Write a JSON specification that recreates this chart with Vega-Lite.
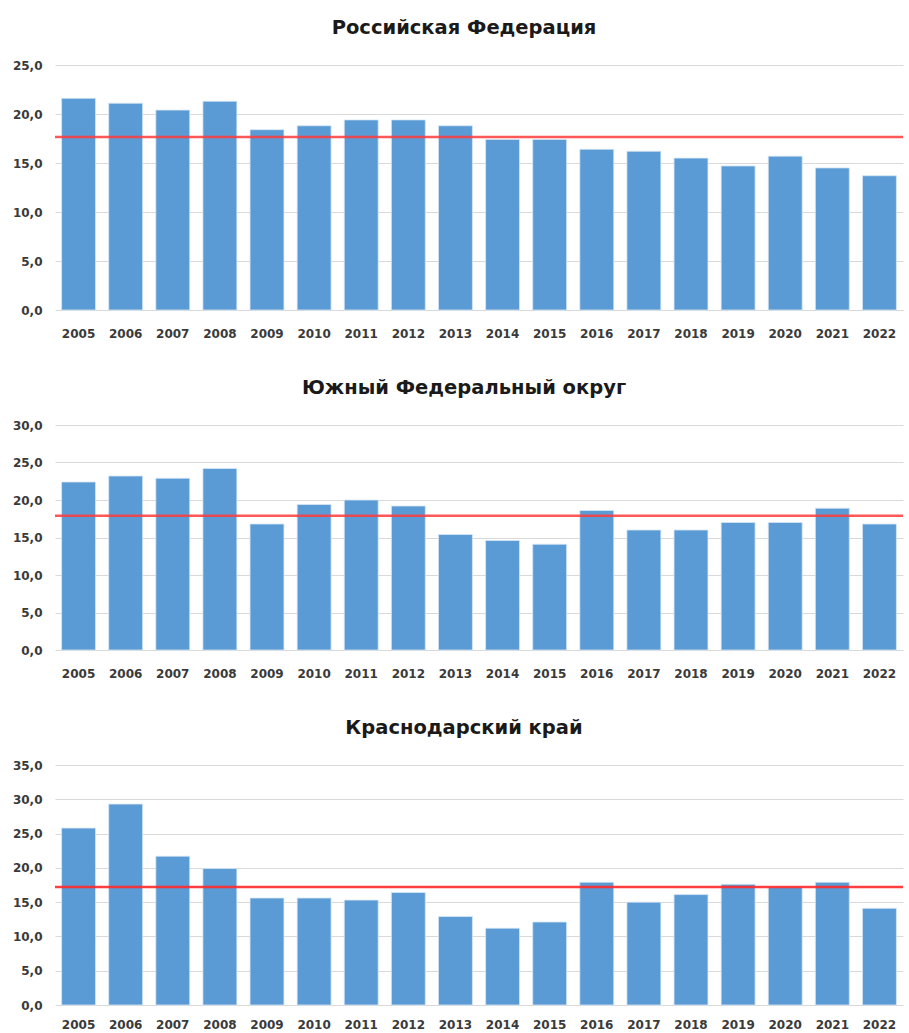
{
  "$schema": "https://vega.github.io/schema/vega-lite/v6.json",
  "autosize": {"type": "pad"},
  "padding": {"left": 12, "top": 17, "right": 4, "bottom": 0},
  "background": "white",
  "spacing": 38,
  "datasets": {
    "d": [
      {"region": "rf", "year": "2005", "value": 21.6},
      {"region": "rf", "year": "2006", "value": 21.1},
      {"region": "rf", "year": "2007", "value": 20.4},
      {"region": "rf", "year": "2008", "value": 21.3},
      {"region": "rf", "year": "2009", "value": 18.4},
      {"region": "rf", "year": "2010", "value": 18.8},
      {"region": "rf", "year": "2011", "value": 19.4},
      {"region": "rf", "year": "2012", "value": 19.4},
      {"region": "rf", "year": "2013", "value": 18.8},
      {"region": "rf", "year": "2014", "value": 17.4},
      {"region": "rf", "year": "2015", "value": 17.4},
      {"region": "rf", "year": "2016", "value": 16.4},
      {"region": "rf", "year": "2017", "value": 16.2},
      {"region": "rf", "year": "2018", "value": 15.5},
      {"region": "rf", "year": "2019", "value": 14.7},
      {"region": "rf", "year": "2020", "value": 15.7},
      {"region": "rf", "year": "2021", "value": 14.5},
      {"region": "rf", "year": "2022", "value": 13.7},
      {"region": "ufo", "year": "2005", "value": 22.4},
      {"region": "ufo", "year": "2006", "value": 23.2},
      {"region": "ufo", "year": "2007", "value": 22.9},
      {"region": "ufo", "year": "2008", "value": 24.2},
      {"region": "ufo", "year": "2009", "value": 16.8},
      {"region": "ufo", "year": "2010", "value": 19.4},
      {"region": "ufo", "year": "2011", "value": 20.0},
      {"region": "ufo", "year": "2012", "value": 19.2},
      {"region": "ufo", "year": "2013", "value": 15.4},
      {"region": "ufo", "year": "2014", "value": 14.6},
      {"region": "ufo", "year": "2015", "value": 14.1},
      {"region": "ufo", "year": "2016", "value": 18.6},
      {"region": "ufo", "year": "2017", "value": 16.0},
      {"region": "ufo", "year": "2018", "value": 16.0},
      {"region": "ufo", "year": "2019", "value": 17.0},
      {"region": "ufo", "year": "2020", "value": 17.0},
      {"region": "ufo", "year": "2021", "value": 18.9},
      {"region": "ufo", "year": "2022", "value": 16.8},
      {"region": "kk", "year": "2005", "value": 25.8},
      {"region": "kk", "year": "2006", "value": 29.3},
      {"region": "kk", "year": "2007", "value": 21.7},
      {"region": "kk", "year": "2008", "value": 19.9},
      {"region": "kk", "year": "2009", "value": 15.6},
      {"region": "kk", "year": "2010", "value": 15.6},
      {"region": "kk", "year": "2011", "value": 15.3},
      {"region": "kk", "year": "2012", "value": 16.4},
      {"region": "kk", "year": "2013", "value": 12.9},
      {"region": "kk", "year": "2014", "value": 11.2},
      {"region": "kk", "year": "2015", "value": 12.1},
      {"region": "kk", "year": "2016", "value": 17.9},
      {"region": "kk", "year": "2017", "value": 15.0},
      {"region": "kk", "year": "2018", "value": 16.1},
      {"region": "kk", "year": "2019", "value": 17.6},
      {"region": "kk", "year": "2020", "value": 17.2},
      {"region": "kk", "year": "2021", "value": 17.9},
      {"region": "kk", "year": "2022", "value": 14.1}
    ],
    "avg": [
      {"region": "rf", "value": 17.65},
      {"region": "ufo", "value": 17.9},
      {"region": "kk", "value": 17.2}
    ]
  },
  "config": {
    "view": {"stroke": null},
    "font": "DejaVu Sans",
    "title": {"font": "DejaVu Sans", "fontSize": 19.5, "fontWeight": "bold", "color": "#1a1a1a", "anchor": "middle", "offset": 21, "dx": -15},
    "axis": {"labelFont": "DejaVu Sans", "labelFontSize": 12, "labelFontWeight": "bold", "labelColor": "#3a3a3a", "ticks": false, "tickSize": 0, "domain": false, "title": null, "labelOverlap": false},
    "axisY": {"gridColor": "#d9d9d9", "gridWidth": 1.2, "labelPadding": 13, "labelExpr": "replace(format(datum.value, '.1f'), '.', ',')"},
    "axisX": {"grid": false, "labelAngle": 0, "labelPadding": 18},
    "bar": {"color": "#5b9bd5", "stroke": "#d6e6f5", "strokeWidth": 0.8},
    "scale": {"bandPaddingInner": 0.28, "bandPaddingOuter": 0.14}
  },
  "vconcat": [
    {
      "title": "Российская  Федерация",
      "width": 848,
      "height": 245,
      "encoding": {
        "y": {"field": "value", "type": "quantitative", "scale": {"domain": [0, 25], "nice": false}, "axis": {"values": [0, 5, 10, 15, 20, 25], "title": null}}
      },
      "layer": [
        {
          "data": {"name": "d"},
          "transform": [{"filter": "datum.region === 'rf'"}],
          "mark": "bar",
          "encoding": {"x": {"field": "year", "type": "nominal", "axis": {"title": null}}}
        },
        {
          "data": {"name": "avg"},
          "transform": [{"filter": "datum.region === 'rf'"}],
          "mark": {"type": "rule", "color": "#ff3b3b", "strokeWidth": 2.4, "opacity": 0.85},
          "encoding": {}
        }
      ]
    },
    {
      "title": "Южный Федеральный округ",
      "width": 848,
      "height": 225,
      "encoding": {
        "y": {"field": "value", "type": "quantitative", "scale": {"domain": [0, 30], "nice": false}, "axis": {"values": [0, 5, 10, 15, 20, 25, 30], "title": null}}
      },
      "layer": [
        {
          "data": {"name": "d"},
          "transform": [{"filter": "datum.region === 'ufo'"}],
          "mark": "bar",
          "encoding": {"x": {"field": "year", "type": "nominal", "axis": {"title": null}}}
        },
        {
          "data": {"name": "avg"},
          "transform": [{"filter": "datum.region === 'ufo'"}],
          "mark": {"type": "rule", "color": "#ff3b3b", "strokeWidth": 2.4, "opacity": 0.85},
          "encoding": {}
        }
      ]
    },
    {
      "title": "Краснодарский  край",
      "width": 848,
      "height": 240,
      "encoding": {
        "y": {"field": "value", "type": "quantitative", "scale": {"domain": [0, 35], "nice": false}, "axis": {"values": [0, 5, 10, 15, 20, 25, 30, 35], "title": null}}
      },
      "layer": [
        {
          "data": {"name": "d"},
          "transform": [{"filter": "datum.region === 'kk'"}],
          "mark": "bar",
          "encoding": {"x": {"field": "year", "type": "nominal", "axis": {"title": null, "labelPadding": 14}}}
        },
        {
          "data": {"name": "avg"},
          "transform": [{"filter": "datum.region === 'kk'"}],
          "mark": {"type": "rule", "color": "#ff2a2a", "strokeWidth": 2.4, "opacity": 0.9},
          "encoding": {}
        }
      ]
    }
  ]
}
